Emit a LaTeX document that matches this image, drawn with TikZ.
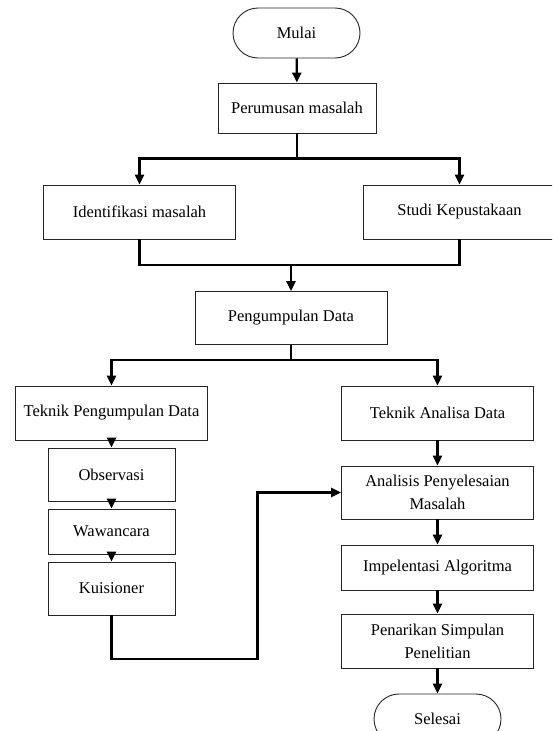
\documentclass[tikz,border=0pt]{standalone}
\usepackage{fontspec}
\setmainfont{Liberation Serif}
\usetikzlibrary{arrows.meta}
\begin{document}
\begin{tikzpicture}[x=1pt,y=-1pt,
  box/.style={draw=black!85, line width=0.9pt, rectangle, inner sep=0pt, align=center,
    font=\fontsize{16.5}{23}\selectfont},
  term/.style={box, rounded corners=25pt, minimum width=127pt, minimum height=50pt},
  conn/.style={line width=2.3pt, line join=miter},
  arr/.style={conn, -{Triangle[width=9pt,length=10pt]}}]
\useasboundingbox (0,0) rectangle (552,731);
\fill[white] (0,0) rectangle (552,731);
\clip (0,0) rectangle (552,731);

\node[term] (mulai) at (296.5,33) {Mulai};
\node[box, minimum width=158pt, minimum height=50pt] (perum) at (297,108) {Perumusan masalah};
\node[box, minimum width=192pt, minimum height=54pt] (ident) at (139.5,212) {Identifikasi masalah};
\node[box, minimum width=192pt, minimum height=54pt] (studi) at (459.5,212) {Studi Kepustakaan};
\node[box, minimum width=192pt, minimum height=53pt] (pengum) at (291,318) {Pengumpulan Data};
\node[box, minimum width=192pt, minimum height=54pt] (tpd) at (111.5,413) {Teknik Pengumpulan Data};
\node[box, minimum width=192pt, minimum height=54pt] (tad) at (437.5,413) {Teknik Analisa Data};
\node[box, minimum width=127pt, minimum height=53pt] (obs) at (111.5,474.5) {Observasi};
\node[box, minimum width=127pt, minimum height=45pt] (waw) at (111.5,531.5) {Wawancara};
\node[box, minimum width=127pt, minimum height=53pt] (kui) at (111.5,588.5) {Kuisioner};
\node[box, minimum width=192pt, minimum height=53pt] (ana) at (437.5,492.5) {Analisis Penyelesaian\\Masalah};
\node[box, minimum width=192pt, minimum height=45pt] (imp) at (437.5,567.5) {Impelentasi Algoritma};
\node[box, minimum width=192pt, minimum height=54pt] (pen) at (437.5,641) {Penarikan Simpulan\\Penelitian};
\node[term] (sel) at (437.5,719) {Selesai};

\coordinate (s1) at (297,158.5);
\coordinate (m1) at (291,265);
\coordinate (s2) at (291,360);
\coordinate (c1) at (257.5,659);

\draw[arr] (mulai) -- (perum);
\draw[conn] (perum.south) -- (s1);
\draw[arr] (s1) -| (ident);
\draw[arr] (s1) -| (studi);
\draw[conn] (ident.south) |- (m1);
\draw[conn] (studi.south) |- (m1);
\draw[arr] (m1) -- (pengum);
\draw[conn] (pengum.south) -- (s2);
\draw[arr] (s2) -| (tpd);
\draw[arr] (s2) -| (tad);
\draw[arr] (tpd) -- (obs);
\draw[arr] (obs) -- (waw);
\draw[arr] (waw) -- (kui);
\draw[arr] (tad) -- (ana);
\draw[arr] (ana) -- (imp);
\draw[arr] (imp) -- (pen);
\draw[arr] (pen) -- (sel);
\draw[arr] (kui.south) |- (c1) |- (ana.west);
\end{tikzpicture}
\end{document}
